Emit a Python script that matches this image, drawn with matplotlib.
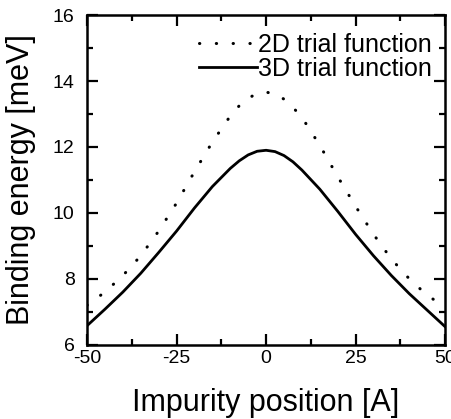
import matplotlib
matplotlib.use('Agg')
from matplotlib import pyplot as plt
from matplotlib.ticker import MultipleLocator

# impurity position [A]
position = [-50, -45, -40, -35, -30, -25, -20, -15, -10, -7.5, -5, -2.5, 0,
            2.5, 5, 7.5, 10, 15, 20, 25, 30, 35, 40, 45, 50]

# binding energy [meV]
energy_2d = [7.2, 7.6, 8.1, 8.7, 9.45, 10.3, 11.25, 12.15, 12.94, 13.25, 13.48, 13.62, 13.66,
             13.62, 13.45, 13.2, 12.9, 12.05, 11.1, 10.2, 9.35, 8.6, 8.0, 7.5, 7.15]
energy_3d = [6.58, 7.08, 7.6, 8.17, 8.8, 9.45, 10.15, 10.8, 11.35, 11.58, 11.76, 11.87, 11.9,
             11.86, 11.74, 11.55, 11.3, 10.72, 10.05, 9.35, 8.7, 8.1, 7.55, 7.05, 6.55]

labels = ['2D trial function', '3D trial function']

plt.rcParams['font.family'] = ['Liberation Sans', 'DejaVu Sans']


def main():
    fig = plt.figure(figsize=(4.51, 4.19), dpi=100)
    ax = fig.add_axes([0.193, 0.177, 0.794, 0.787])

    ax.plot(position, energy_2d, color='black', linewidth=2.2,
            linestyle=(0, (0.1, 5.4)), dash_capstyle='round', label=labels[0])
    ax.plot(position, energy_3d, color='black', linewidth=2.0,
            solid_joinstyle='round', label=labels[1])

    ax.set_xlim(-50, 50)
    ax.set_ylim(6, 16)
    ax.xaxis.set_minor_locator(MultipleLocator(12.5))
    ax.yaxis.set_major_locator(MultipleLocator(2))
    ax.yaxis.set_minor_locator(MultipleLocator(1))
    ax.set_xticks([-50, -25, 0, 25, 50])
    ax.set_xticklabels(['-50', '-25', '0', '25', '50'])

    ax.tick_params(which='both', direction='in', top=True, right=True,
                   width=1.6, labelsize=14)
    ax.tick_params(which='major', length=8)
    ax.tick_params(which='minor', length=4.5)
    ax.tick_params(axis='y', pad=9)
    ax.tick_params(axis='x', pad=4)
    for s in ax.spines.values():
        s.set_linewidth(1.8)

    ax.set_xlabel('Impurity position [A]', fontsize=22, labelpad=15)
    ax.set_ylabel('Binding energy [meV]', fontsize=22, labelpad=12)

    ax.legend(loc='upper right', bbox_to_anchor=(1.012, 1.0), frameon=False,
              fontsize=18, handlelength=2.3, handletextpad=0.05,
              labelspacing=0.0, borderaxespad=0.3)

    plt.savefig('out.png', dpi=100)
    plt.close()


if __name__ == '__main__':
    main()
